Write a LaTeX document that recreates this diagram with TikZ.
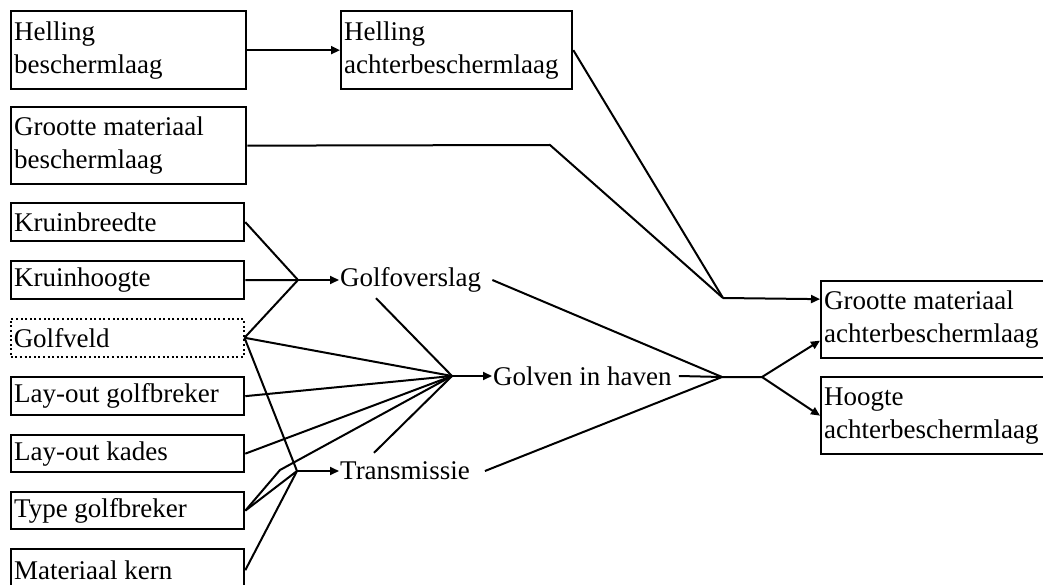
\documentclass[tikz,border=0pt]{standalone}
\usepackage{fontspec}
\setmainfont{Liberation Serif}
\usetikzlibrary{arrows.meta}
\begin{document}
\begin{tikzpicture}[x=1pt,y=-1pt,
  lbl/.style={font=\fontsize{27}{33}\selectfont},
  box/.style={lbl, draw, line width=2.3pt, anchor=north west,
    inner xsep=3pt, inner ysep=0pt, align=flush left},
  dottedbox/.style={box, line width=1.5pt, dash pattern=on 2pt off 2.6pt},
  txt/.style={lbl, inner sep=1pt, minimum height=36pt, anchor=west},
  link/.style={line width=2pt, line join=round},
  arr/.style={-{Triangle[length=9pt,width=8pt]}}]
\useasboundingbox (0,0) rectangle (1043,585);
\fill[white] (0,0) rectangle (1043,585);

% input boxes
\node[box, text width=229pt, minimum height=78pt] (hb)  at (10,10)  {Helling\\beschermlaag};
\node[box, text width=225pt, minimum height=78pt] (hab) at (340,10) {Helling\\achterbeschermlaag};
\node[box, text width=229pt, minimum height=77pt] (gmb) at (10,106) {Grootte materiaal\\beschermlaag};
\node[box, text width=227pt, minimum height=38pt] (kb)  at (10,202) {Kruinbreedte};
\node[box, text width=227pt, minimum height=38pt] (kh)  at (10,260) {Kruinhoogte};
\node[dottedbox, text width=227pt, minimum height=38pt] (gv) at (10,318) {Golfveld};
\node[box, text width=227pt, minimum height=38pt] (lg)  at (10,376) {Lay-out golfbreker};
\node[box, text width=227pt, minimum height=37pt] (lk)  at (10,434) {Lay-out kades};
\node[box, text width=227pt, minimum height=37pt] (tg)  at (10,491) {Type golfbreker};
\node[box, text width=227pt, minimum height=42pt] (mk)  at (10,548) {Materiaal kern};

% result boxes
\node[box, text width=219pt, minimum height=77pt] (gma) at (820,280) {Grootte materiaal\\achterbeschermlaag};
\node[box, text width=219pt, minimum height=77pt] (ha)  at (820,376) {Hoogte\\achterbeschermlaag};

% intermediate quantities
\node[txt] (go) at (339,280) {Golfoverslag};
\node[txt] (gh) at (492,376) {Golven in haven};
\node[txt] (tr) at (339,471) {Transmissie};

% junction points
\coordinate (J4) at (298,280);
\coordinate (J3) at (452,376);
\coordinate (J5) at (297,471);
\coordinate (Tb) at (280,470);
\coordinate (Kb) at (550,145);
\coordinate (J1) at (723,298);
\coordinate (J2) at (722,377);
\coordinate (Br) at (762,377);

% top chain
\draw[link,arr] (hb.east) -- (hab.west);
\draw[link] (hab.east) -- (J1);
\draw[link] (gmb.east) -- (Kb) -- (J1);
\draw[link,arr] (J1) -- ([yshift=20.5pt]gma.west);

% wave overtopping
\draw[link] (kb.east) -- (J4);
\draw[link] (kh.east) -- (J4);
\draw[link] (gv.east) -- (J4);
\draw[link,arr] (J4) -- (go.west);

% waves in harbour
\draw[link] (gv.east) -- (J3);
\draw[link] (lg.east) -- (J3);
\draw[link] (lk.east) -- (J3);
\draw[link] (tg.east) -- (Tb) -- (J3);
\draw[link] ([xshift=37pt]go.south west) -- (J3);
\draw[link] ([xshift=35pt]tr.north west) -- (J3);
\draw[link,arr] (J3) -- (gh.west);

% transmission
\draw[link] (gv.east) -- (J5);
\draw[link] (tg.east) -- (J5);
\draw[link] (mk.east) -- (J5);
\draw[link,arr] (J5) -- (tr.west);

% to the rear armour layer
\draw[link] ([xshift=10pt]go.east) -- (J2);
\draw[link] ([xshift=14pt]tr.east) -- (J2);
\draw[link] ([xshift=6pt]gh.east) -- (J2) -- (Br);
\draw[link,arr] (Br) -- ([yshift=-21pt]gma.west);
\draw[link,arr] (Br) -- (ha.west);
\end{tikzpicture}
\end{document}
